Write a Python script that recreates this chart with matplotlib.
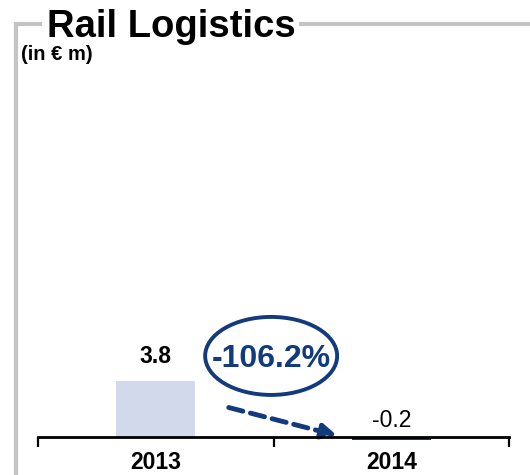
import matplotlib.pyplot as plt
from matplotlib.lines import Line2D
from matplotlib.patches import Ellipse, FancyArrowPatch

plt.rcParams['font.family'] = ['Liberation Sans', 'DejaVu Sans']

years = ['2013', '2014']
values = [3.8, -0.2]
value_labels = ['3.8', '-0.2']
change_label = '-106.2%'

navy = '#123a7c'
bar_colors = ['#d2d9ea', navy]

W, H = 530, 475
fig = plt.figure(figsize=(W / 100, H / 100), dpi=100)

def fx(px):
    return px / W

def fy(py):
    return 1 - py / H

# grey frame round the panel
grey = '#c4c4c4'
fig.add_artist(Line2D([fx(16), fx(16)], [fy(24), fy(475)], color=grey, lw=3))
fig.add_artist(Line2D([fx(16), fx(40)], [fy(24), fy(24)], color=grey, lw=3))
fig.add_artist(Line2D([fx(301), fx(530)], [fy(24), fy(24)], color=grey, lw=3))

fig.text(fx(47), fy(37), 'Rail Logistics', fontsize=27.5, fontweight='bold',
         ha='left', va='baseline')
fig.text(fx(21), fy(60), '(in € m)', fontsize=14.5, fontweight='bold',
         ha='left', va='baseline')

# axes: x from -0.5..1.5 across 38..509 px, y=0 at 437 px
ppu = 14.74
y_lo, y_hi = -1.0, 8.0
bottom_px = 437 + (-y_lo) * ppu
ax = fig.add_axes([fx(38), fy(bottom_px), fx(509) - fx(38), (y_hi - y_lo) * ppu / H])
ax.set_xlim(-0.5, 1.5)
ax.set_ylim(y_lo, y_hi)
ax.patch.set_visible(False)

x = list(range(len(years)))
ax.bar(x, values, width=0.335, color=bar_colors, zorder=2)

for side in ['top', 'right', 'left']:
    ax.spines[side].set_visible(False)
ax.spines['bottom'].set_position(('data', 0))
ax.spines['bottom'].set_linewidth(2)
ax.spines['bottom'].set_zorder(3)
ax.set_yticks([])
ax.set_xticks([-0.5, 0.5, 1.5])
ax.set_xticklabels([])
ax.tick_params(axis='x', direction='out', length=7, width=1.6)

ax.text(x[0], values[0] + 1.22, value_labels[0], fontsize=16.5, fontweight='bold',
        ha='center', va='baseline')
ax.text(x[1], 0.68, value_labels[1], fontsize=16.5, ha='center', va='baseline')

for xi, yr in zip(x, years):
    ax.text(xi, -2.2, yr, fontsize=16.5, fontweight='bold', ha='center', va='baseline',
            clip_on=False)

# change bubble and dashed arrow
ax.add_patch(Ellipse((0.49, 5.5), 132 / 235.5, 78 / ppu, fill=False,
                     edgecolor=navy, lw=2.8, clip_on=False))
ax.text(0.49, 5.5, change_label, fontsize=23, fontweight='bold', color=navy,
        ha='center', va='center_baseline', clip_on=False)
ax.add_patch(FancyArrowPatch((0.31, 2.0), (0.77, 0.1), arrowstyle='-|>',
                             mutation_scale=22, lw=3.5, linestyle=(0, (3, 1.6)),
                             color=navy, clip_on=False, shrinkA=0, shrinkB=0))

fig.savefig('out.png', dpi=100)
